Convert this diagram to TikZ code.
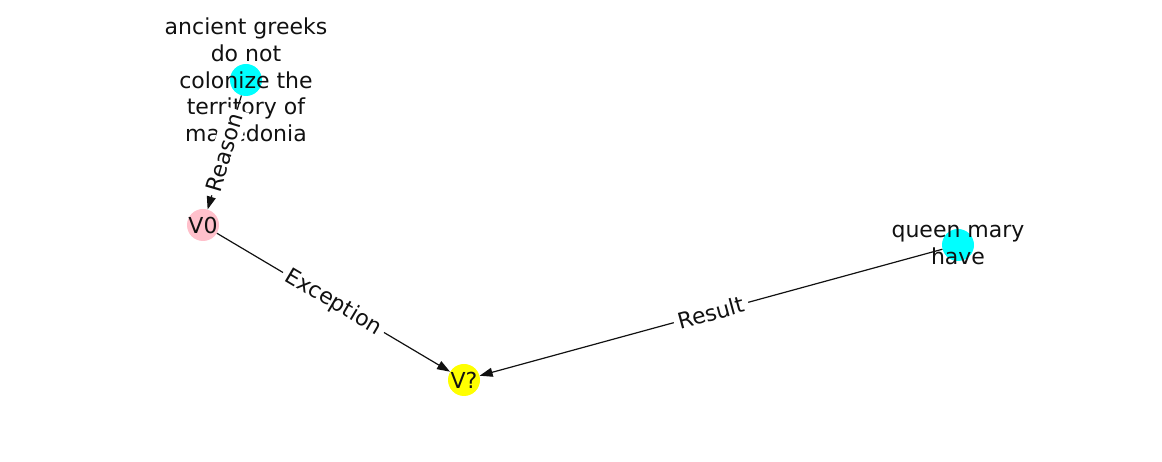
\documentclass[tikz,border=0pt]{standalone}
\usepackage{fontspec}
\setmainfont{DejaVu Sans}
\usetikzlibrary{arrows.meta,positioning}
\definecolor{vcyan}{HTML}{00FFFF}
\definecolor{vpink}{HTML}{FFC0CB}
\definecolor{vyellow}{HTML}{FFFF00}
\definecolor{ink}{HTML}{111111}

\begin{document}
\begin{tikzpicture}[x=1pt, y=1pt, every node/.style={font=\fontsize{22}{26.7}\selectfont, text=ink},
      vtx/.style={circle, minimum size=32pt, inner sep=0pt},
      txt/.style={align=center, inner sep=0pt},
      elbl/.style={fill=white, inner sep=4.5pt, sloped},
      arr/.style={-{Triangle[length=13pt, width=9pt]}, draw=ink, line width=1.2pt}]
    \useasboundingbox (0,0) rectangle (1162,462);
    \node[vtx, fill=vcyan] (greeks) at (246,382) {};
    \node[vtx, fill=vpink] (v0) at (203,237) {};
    \node[vtx, fill=vyellow] (vq) at (464,82) {};
    \node[vtx, fill=vcyan] (queen) at (958,217) {};
    \node[txt] (greekst) at (greeks) {ancient greeks\\do not\\colonize the\\territory of\\macedonia};
    \node[txt] (v0t) at (v0) {V0};
    \node[txt] (vqt) at (vq) {V?};
    \node[txt] (queent) at (queen) {queen mary\\have};
    \draw[arr] (greeks) -- node[elbl] {Reason} (v0); \draw[arr] (v0) -- node[elbl] {Exception} (vq);
    \draw[arr] (queen) -- node[elbl] {Result} (vq);
  \end{tikzpicture}
\end{document}
